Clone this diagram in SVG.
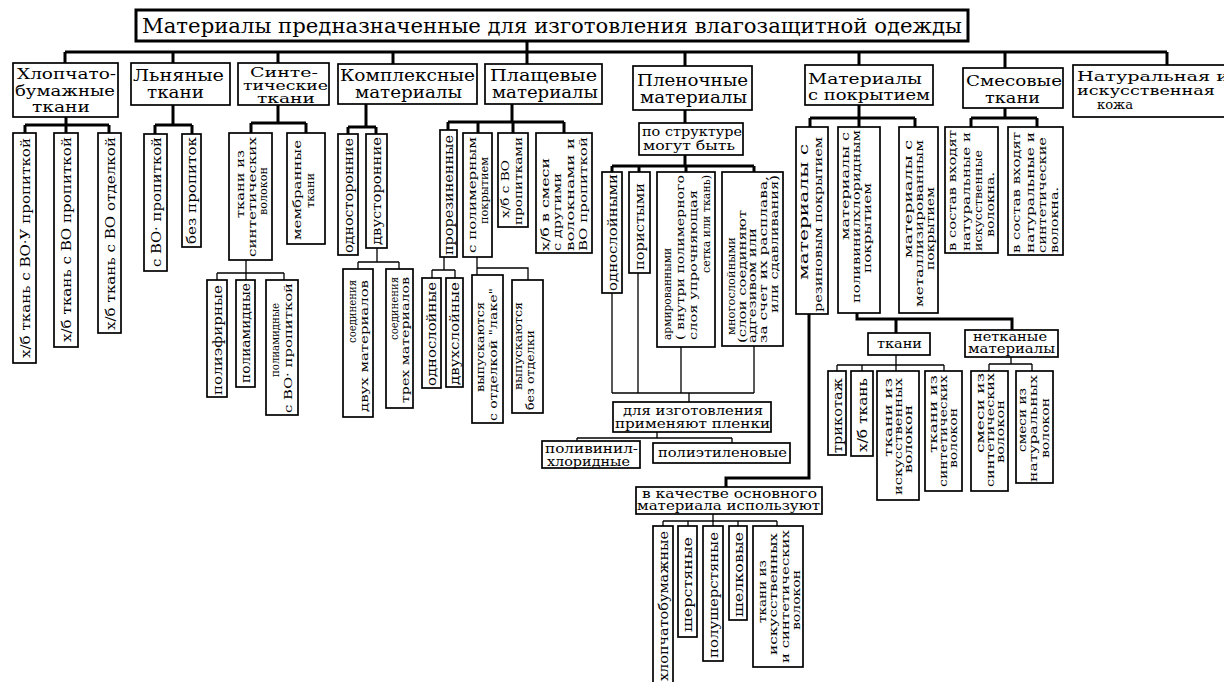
<svg xmlns="http://www.w3.org/2000/svg" width="1224" height="682" viewBox="0 0 1224 682">
<style>
.b{fill:#fff;stroke:#000;stroke-width:1.7}
.tb{fill:#fff;stroke:#000;stroke-width:3}
.k{stroke:#000;stroke-width:3;fill:none}
.n{stroke:#000;stroke-width:1.3;fill:none}
text{font-family:"DejaVu Serif","Liberation Serif",serif;fill:#000}
.h{font-size:16px}
.h3{font-size:14.5px}
.h2{font-size:12px}
.s{font-size:12px}
.v{font-size:11px}
.v1{font-size:13px}
</style>
<rect width="1224" height="682" fill="#fff"/>
<g id="connectors">
<path class="k" d="M527 41V64M65 52H1167M65 52V63M173 52V63M278 52V63M393 52V64M685 52V66M859 52V65M1005 52V68M1167 52V65"/>
<path class="k" d="M66 117V125M25 125H109M25 125V133M66 125V133M109 125V133"/>
<path class="k" d="M173 105V125M155 125H192M155 125V134M192 125V134"/>
<path class="k" d="M278 105V123M251 123H306M251 123V133M306 123V133"/>
<path class="n" d="M246 260V273M217 273H284M217 273V280M246 273V280M284 273V280"/>
<path class="k" d="M366 104V127M348 127H376M348 127V134M376 127V134"/>
<path class="n" d="M377 248V262M358 262H399M358 262V269M399 262V269"/>
<path class="k" d="M512 104V122M448 122H564M448 122V130M478 122V133M513 122V133M564 122V133"/>
<path class="n" d="M444 257V270M432 270H455M432 270V278M455 270V278"/>
<path class="n" d="M477 257V275M477 268H528V280"/>
<path class="k" d="M685 110V123M685 155V166M612 166H754M612 166V172M639 166V172M686 166V172M754 166V172"/>
<path class="n" d="M612 293V393M638 273V393M681 347V393M754 346V393M612 393H754M689 393V402"/>
<path class="n" d="M657 432V438M577 438H732M577 438V441M732 438V443"/>
<path class="k" d="M859 105V118M810 118H915M810 118V127M859 118V127M915 118V127"/>
<path class="k" d="M809 314V478H726V487"/>
<path class="n" d="M713 514V521M663 521H777M663 521V526M688 521V526M713 521V526M738 521V526M777 521V526"/>
<path class="k" d="M857 313V319H1012V330M896 319V333"/>
<path class="n" d="M896 355V371M837 365H944M837 365V371M862 365V371M944 365V371"/>
<path class="n" d="M1011 357V364M989 364H1032M989 364V371M1032 364V371"/>
<path class="k" d="M1005 108V118M971 118H1037M971 118V127M1037 118V127"/>
</g>
<g id="title"><rect class="tb" x="136" y="10" width="832" height="31"/><text x="142" y="33" font-size="21" textLength="820" lengthAdjust="spacingAndGlyphs">Материалы предназначенные для изготовления влагозащитной одежды</text></g>
<g id="n-hlop"><rect class="b" x="13" y="63" width="105" height="54"/><text class="h3" x="17" y="79" textLength="99" lengthAdjust="spacingAndGlyphs">Хлопчато-</text><text class="h3" x="15" y="96" textLength="100" lengthAdjust="spacingAndGlyphs">бумажные</text><text class="h3" x="32" y="112" textLength="58" lengthAdjust="spacingAndGlyphs">ткани</text></g>
<g id="n-len"><rect class="b" x="131" y="63" width="99" height="42"/><text class="h" x="133" y="81" textLength="91" lengthAdjust="spacingAndGlyphs">Льняные</text><text class="h" x="147" y="98" textLength="57" lengthAdjust="spacingAndGlyphs">ткани</text></g>
<g id="n-sint"><rect class="b" x="238" y="63" width="91" height="42"/><text class="h2" x="250" y="77" textLength="68" lengthAdjust="spacingAndGlyphs">Синте-</text><text class="h2" x="243" y="90" textLength="85" lengthAdjust="spacingAndGlyphs">тические</text><text class="h2" x="257" y="102.5" textLength="58" lengthAdjust="spacingAndGlyphs">ткани</text></g>
<g id="n-kompl"><rect class="b" x="338" y="64" width="139" height="40"/><text class="h" x="340" y="81" textLength="135" lengthAdjust="spacingAndGlyphs">Комплексные</text><text class="h" x="355" y="98" textLength="107" lengthAdjust="spacingAndGlyphs">материалы</text></g>
<g id="n-plasch"><rect class="b" x="485" y="64" width="117" height="40"/><text class="h" x="490" y="81" textLength="107" lengthAdjust="spacingAndGlyphs">Плащевые</text><text class="h" x="492" y="98" textLength="106" lengthAdjust="spacingAndGlyphs">материалы</text></g>
<g id="n-plen"><rect class="b" x="633" y="66" width="119" height="44"/><text class="h" x="637" y="86" textLength="111" lengthAdjust="spacingAndGlyphs">Пленочные</text><text class="h" x="640" y="103" textLength="107" lengthAdjust="spacingAndGlyphs">материалы</text></g>
<g id="n-pokr"><rect class="b" x="805" y="65" width="128" height="40"/><text font-size="15" x="808" y="84" textLength="114" lengthAdjust="spacingAndGlyphs">Материалы</text><text font-size="15" x="808" y="100" textLength="122" lengthAdjust="spacingAndGlyphs">с покрытием</text></g>
<g id="n-smes"><rect class="b" x="963" y="68" width="100" height="40"/><text font-size="15.5" x="966" y="86" textLength="96" lengthAdjust="spacingAndGlyphs">Смесовые</text><text font-size="15.5" x="985" y="103" textLength="55" lengthAdjust="spacingAndGlyphs">ткани</text></g>
<g id="n-kozha"><rect class="b" x="1073" y="65" width="153" height="52"/><text font-size="13.5" x="1077" y="81" textLength="152" lengthAdjust="spacingAndGlyphs">Натуральная и</text><text font-size="13.5" x="1077" y="95" textLength="138" lengthAdjust="spacingAndGlyphs">искусственная</text><text font-size="13.5" x="1097" y="109" textLength="36" lengthAdjust="spacingAndGlyphs">кожа</text></g>

<g id="n-hb1"><rect class="b" x="13" y="133" width="23" height="230"/><text class="v1" transform="rotate(-90)" x="-358" y="29.5" textLength="220" lengthAdjust="spacingAndGlyphs">х/б ткань с ВО·У пропиткой</text></g>
<g id="n-hb2"><rect class="b" x="54" y="133" width="24" height="214"/><text class="v1" transform="rotate(-90)" x="-342" y="71" textLength="205" lengthAdjust="spacingAndGlyphs">х/б ткань с ВО пропиткой</text></g>
<g id="n-hb3"><rect class="b" x="98" y="133" width="23" height="200"/><text class="v1" transform="rotate(-90)" x="-330" y="114.5" textLength="193" lengthAdjust="spacingAndGlyphs">х/б ткань с ВО отделкой</text></g>
<g id="n-len1"><rect class="b" x="144" y="134" width="23" height="137"/><text class="v1" transform="rotate(-90)" x="-267" y="160.5" textLength="130" lengthAdjust="spacingAndGlyphs">с ВО· пропиткой</text></g>
<g id="n-len2"><rect class="b" x="182" y="134" width="19" height="113"/><text class="v1" transform="rotate(-90)" x="-244" y="196" textLength="107" lengthAdjust="spacingAndGlyphs">без пропиток</text></g>
<g id="n-sint1"><rect class="b" x="229" y="133" width="43" height="127"/><text class="v" transform="rotate(-90)" x="-218" y="244" textLength="68" lengthAdjust="spacingAndGlyphs">ткани из</text><text class="v" transform="rotate(-90)" x="-257" y="256" textLength="120" lengthAdjust="spacingAndGlyphs">синтетических</text><text class="v" transform="rotate(-90)" x="-215" y="267" textLength="48" lengthAdjust="spacingAndGlyphs">волокон</text></g>
<g id="n-sint2"><rect class="b" x="287" y="133" width="38" height="111"/><text class="v" transform="rotate(-90)" x="-240" y="301" textLength="100" lengthAdjust="spacingAndGlyphs">мембранные</text><text class="v" transform="rotate(-90)" x="-208" y="314" textLength="35" lengthAdjust="spacingAndGlyphs">ткани</text></g>
<g id="n-pef"><rect class="b" x="207" y="280" width="20" height="117"/><text class="v1" transform="rotate(-90)" x="-395" y="222" textLength="110" lengthAdjust="spacingAndGlyphs">полиэфирные</text></g>
<g id="n-pam"><rect class="b" x="236" y="280" width="19" height="107"/><text class="v1" transform="rotate(-90)" x="-383" y="250" textLength="100" lengthAdjust="spacingAndGlyphs">полиамидные</text></g>
<g id="n-pam2"><rect class="b" x="266" y="280" width="32" height="135"/><text class="v" transform="rotate(-90)" x="-377" y="279" textLength="74" lengthAdjust="spacingAndGlyphs">полиамидные</text><text class="v" transform="rotate(-90)" x="-413" y="292" textLength="130" lengthAdjust="spacingAndGlyphs">с ВО· пропиткой</text></g>
<g id="n-odnost"><rect class="b" x="338" y="134" width="20" height="121"/><text class="v1" transform="rotate(-90)" x="-253" y="352.5" textLength="115" lengthAdjust="spacingAndGlyphs">односторонние</text></g>
<g id="n-dvust"><rect class="b" x="366" y="134" width="21" height="114"/><text class="v1" transform="rotate(-90)" x="-245" y="381" textLength="108" lengthAdjust="spacingAndGlyphs">двусторонние</text></g>
<g id="n-soed2"><rect class="b" x="343" y="269" width="30" height="148"/><text class="v" transform="rotate(-90)" x="-343" y="356" textLength="63" lengthAdjust="spacingAndGlyphs">соединения</text><text class="v" transform="rotate(-90)" x="-412" y="368" textLength="132" lengthAdjust="spacingAndGlyphs">двух материалов</text></g>
<g id="n-soed3"><rect class="b" x="386" y="269" width="27" height="139"/><text class="v" transform="rotate(-90)" x="-340" y="398" textLength="63" lengthAdjust="spacingAndGlyphs">соединения</text><text class="v" transform="rotate(-90)" x="-403" y="409" textLength="126" lengthAdjust="spacingAndGlyphs">трех материалов</text></g>
<g id="n-prorez"><rect class="b" x="440" y="130" width="17" height="127"/><text class="v1" transform="rotate(-90)" x="-255" y="453" textLength="120" lengthAdjust="spacingAndGlyphs">прорезиненные</text></g>
<g id="n-polim"><rect class="b" x="463" y="133" width="29" height="124"/><text class="v" transform="rotate(-90)" x="-253" y="476" textLength="116" lengthAdjust="spacingAndGlyphs">с полимерным</text><text class="v" transform="rotate(-90)" x="-224" y="488" textLength="67" lengthAdjust="spacingAndGlyphs">покрытием</text></g>
<g id="n-hbvo"><rect class="b" x="498" y="133" width="30" height="94"/><text class="v" transform="rotate(-90)" x="-218" y="509" textLength="58" lengthAdjust="spacingAndGlyphs">х/б с ВО</text><text class="v" transform="rotate(-90)" x="-225" y="522" textLength="88" lengthAdjust="spacingAndGlyphs">пропитками</text></g>
<g id="n-hbsm"><rect class="b" x="536" y="133" width="56" height="120"/><text class="v" transform="rotate(-90)" x="-251" y="549" textLength="93" lengthAdjust="spacingAndGlyphs">х/б в смеси</text><text class="v" transform="rotate(-90)" x="-251" y="561" textLength="78" lengthAdjust="spacingAndGlyphs">с другими</text><text class="v" transform="rotate(-90)" x="-251" y="574" textLength="113" lengthAdjust="spacingAndGlyphs">волокнами и</text><text class="v" transform="rotate(-90)" x="-251" y="587" textLength="114" lengthAdjust="spacingAndGlyphs">ВО пропиткой</text></g>
<g id="n-odnosl"><rect class="b" x="422" y="278" width="19" height="110"/><text class="v1" transform="rotate(-90)" x="-386" y="436" textLength="104" lengthAdjust="spacingAndGlyphs">однослойные</text></g>
<g id="n-dvuhsl"><rect class="b" x="446" y="278" width="17" height="109"/><text class="v1" transform="rotate(-90)" x="-385" y="459" textLength="103" lengthAdjust="spacingAndGlyphs">двухслойные</text></g>
<g id="n-lake"><rect class="b" x="472" y="275" width="31" height="148"/><text class="v" transform="rotate(-90)" x="-392" y="484" textLength="90" lengthAdjust="spacingAndGlyphs">выпускаются</text><text class="v" transform="rotate(-90)" x="-421" y="497" textLength="133" lengthAdjust="spacingAndGlyphs">с отделкой "лаке"</text></g>
<g id="n-bezotd"><rect class="b" x="512" y="280" width="31" height="133"/><text class="v" transform="rotate(-90)" x="-390" y="522" textLength="88" lengthAdjust="spacingAndGlyphs">выпускаются</text><text class="v" transform="rotate(-90)" x="-410" y="534" textLength="80" lengthAdjust="spacingAndGlyphs">без отделки</text></g>

<g id="n-struct"><rect class="b" x="639" y="123" width="104" height="32"/><text class="s" x="642" y="136" textLength="100" lengthAdjust="spacingAndGlyphs">по структуре</text><text class="s" x="643" y="150" textLength="92" lengthAdjust="spacingAndGlyphs">могут  быть</text></g>
<g id="n-odnoslm"><rect class="b" x="602" y="172" width="20" height="121"/><text class="v1" transform="rotate(-90)" x="-291" y="617" textLength="117" lengthAdjust="spacingAndGlyphs">однослойными</text></g>
<g id="n-porist"><rect class="b" x="629" y="172" width="21" height="101"/><text class="v1" transform="rotate(-90)" x="-270" y="644" textLength="87" lengthAdjust="spacingAndGlyphs">пористыми</text></g>
<g id="n-arm"><rect class="b" x="657" y="172" width="58" height="175"/><text class="v" transform="rotate(-90)" x="-340" y="671" textLength="92" lengthAdjust="spacingAndGlyphs">армированными</text><text class="v" transform="rotate(-90)" x="-340" y="684" textLength="165" lengthAdjust="spacingAndGlyphs">( внутри полимерного</text><text class="v" transform="rotate(-90)" x="-340" y="697" textLength="150" lengthAdjust="spacingAndGlyphs">слоя упрочняющая</text><text class="v" transform="rotate(-90)" x="-273" y="710" textLength="98" lengthAdjust="spacingAndGlyphs">сетка или ткань)</text></g>
<g id="n-mnogo"><rect class="b" x="722" y="172" width="61" height="174"/><text class="v" transform="rotate(-90)" x="-335" y="735" textLength="98" lengthAdjust="spacingAndGlyphs">многослойными</text><text class="v" transform="rotate(-90)" x="-343" y="746" textLength="133" lengthAdjust="spacingAndGlyphs">(слои соединяют</text><text class="v" transform="rotate(-90)" x="-343" y="756" textLength="115" lengthAdjust="spacingAndGlyphs">адгезивом или</text><text class="v" transform="rotate(-90)" x="-343" y="767" textLength="167" lengthAdjust="spacingAndGlyphs">за счет их расплава,</text><text class="v" transform="rotate(-90)" x="-313" y="778" textLength="138" lengthAdjust="spacingAndGlyphs">или сдавливания)</text></g>
<g id="n-dlya"><rect class="b" x="613" y="402" width="158" height="30"/><text font-size="13" x="623" y="415" textLength="140" lengthAdjust="spacingAndGlyphs">для изготовления</text><text font-size="13" x="615" y="428" textLength="155" lengthAdjust="spacingAndGlyphs">применяют пленки</text></g>
<g id="n-pvh"><rect class="b" x="542" y="441" width="98" height="27"/><text font-size="12" x="545" y="452.5" textLength="93" lengthAdjust="spacingAndGlyphs">поливинил-</text><text font-size="12" x="547" y="465.5" textLength="83" lengthAdjust="spacingAndGlyphs">хлоридные</text></g>
<g id="n-pe"><rect class="b" x="653" y="443" width="137" height="20"/><text font-size="13" x="658" y="457" textLength="129" lengthAdjust="spacingAndGlyphs">полиэтиленовые</text></g>

<g id="n-rez"><rect class="b" x="796" y="127" width="32" height="187"/><text font-size="13" transform="rotate(-90)" x="-280" y="808" textLength="136" lengthAdjust="spacingAndGlyphs">материалы с</text><text class="v" transform="rotate(-90)" x="-312" y="822" textLength="175" lengthAdjust="spacingAndGlyphs">резиновым покрытием</text></g>
<g id="n-pvhp"><rect class="b" x="838" y="127" width="42" height="186"/><text class="v" transform="rotate(-90)" x="-240" y="849" textLength="108" lengthAdjust="spacingAndGlyphs">материалы с</text><text class="v" transform="rotate(-90)" x="-303" y="860" textLength="173" lengthAdjust="spacingAndGlyphs">поливинилхлоридным</text><text class="v" transform="rotate(-90)" x="-273" y="871" textLength="90" lengthAdjust="spacingAndGlyphs">покрытием</text></g>
<g id="n-met"><rect class="b" x="899" y="127" width="39" height="186"/><text class="v" transform="rotate(-90)" x="-258" y="912" textLength="118" lengthAdjust="spacingAndGlyphs">материалы с</text><text class="v" transform="rotate(-90)" x="-307" y="923" textLength="167" lengthAdjust="spacingAndGlyphs">металлизированным</text><text class="v" transform="rotate(-90)" x="-270" y="934" textLength="83" lengthAdjust="spacingAndGlyphs">покрытием</text></g>
<g id="n-kach"><rect class="b" x="636" y="487" width="186" height="27"/><text class="s" x="642" y="498" textLength="175" lengthAdjust="spacingAndGlyphs">в качестве основного</text><text class="s" x="637" y="510" textLength="183" lengthAdjust="spacingAndGlyphs">материала используют</text></g>
<g id="n-hlb"><rect class="b" x="653" y="526" width="20" height="170"/><text class="v1" transform="rotate(-90)" x="-681" y="668" textLength="150" lengthAdjust="spacingAndGlyphs">хлопчатобумажные</text></g>
<g id="n-sher"><rect class="b" x="678" y="526" width="19" height="111"/><text class="v1" transform="rotate(-90)" x="-632" y="692" textLength="95" lengthAdjust="spacingAndGlyphs">шерстяные</text></g>
<g id="n-polush"><rect class="b" x="703" y="526" width="20" height="135"/><text class="v1" transform="rotate(-90)" x="-658" y="718" textLength="126" lengthAdjust="spacingAndGlyphs">полушерстяные</text></g>
<g id="n-shelk"><rect class="b" x="729" y="526" width="18" height="94"/><text class="v1" transform="rotate(-90)" x="-617" y="742.5" textLength="85" lengthAdjust="spacingAndGlyphs">шелковые</text></g>
<g id="n-tisk"><rect class="b" x="753" y="526" width="50" height="141"/><text class="v" transform="rotate(-90)" x="-623" y="766" textLength="63" lengthAdjust="spacingAndGlyphs">ткани из</text><text class="v" transform="rotate(-90)" x="-655" y="777" textLength="122" lengthAdjust="spacingAndGlyphs">искусственных</text><text class="v" transform="rotate(-90)" x="-663" y="789" textLength="133" lengthAdjust="spacingAndGlyphs">и синтетических</text><text class="v" transform="rotate(-90)" x="-630" y="800" textLength="60" lengthAdjust="spacingAndGlyphs">волокон</text></g>

<g id="n-tkani"><rect class="b" x="868" y="333" width="62" height="22"/><text font-size="13" x="877" y="348" textLength="45" lengthAdjust="spacingAndGlyphs">ткани</text></g>
<g id="n-netk"><rect class="b" x="965" y="330" width="93" height="27"/><text class="s" x="973" y="341" textLength="74" lengthAdjust="spacingAndGlyphs">нетканые</text><text class="s" x="968" y="353" textLength="87" lengthAdjust="spacingAndGlyphs">материалы</text></g>
<g id="n-trik"><rect class="b" x="828" y="371" width="18" height="84"/><text class="v1" transform="rotate(-90)" x="-453" y="842" textLength="75" lengthAdjust="spacingAndGlyphs">трикотаж</text></g>
<g id="n-hbt"><rect class="b" x="851" y="371" width="22" height="85"/><text class="v1" transform="rotate(-90)" x="-452" y="867" textLength="74" lengthAdjust="spacingAndGlyphs">х/б ткань</text></g>
<g id="n-tiv"><rect class="b" x="877" y="371" width="42" height="129"/><text class="v" transform="rotate(-90)" x="-457" y="892" textLength="79" lengthAdjust="spacingAndGlyphs">ткани из</text><text class="v" transform="rotate(-90)" x="-495" y="902" textLength="117" lengthAdjust="spacingAndGlyphs">искусственных</text><text class="v" transform="rotate(-90)" x="-473" y="912" textLength="68" lengthAdjust="spacingAndGlyphs">волокон</text></g>
<g id="n-tsv"><rect class="b" x="925" y="371" width="37" height="120"/><text class="v" transform="rotate(-90)" x="-453" y="937" textLength="78" lengthAdjust="spacingAndGlyphs">ткани из</text><text class="v" transform="rotate(-90)" x="-487" y="947" textLength="112" lengthAdjust="spacingAndGlyphs">синтетических</text><text class="v" transform="rotate(-90)" x="-468" y="957" textLength="60" lengthAdjust="spacingAndGlyphs">волокон</text></g>
<g id="n-ssv"><rect class="b" x="971" y="371" width="37" height="120"/><text class="v" transform="rotate(-90)" x="-453" y="984" textLength="80" lengthAdjust="spacingAndGlyphs">смеси из</text><text class="v" transform="rotate(-90)" x="-487" y="994" textLength="114" lengthAdjust="spacingAndGlyphs">синтетических</text><text class="v" transform="rotate(-90)" x="-463" y="1004" textLength="63" lengthAdjust="spacingAndGlyphs">волокон</text></g>
<g id="n-snv"><rect class="b" x="1016" y="371" width="37" height="112"/><text class="v" transform="rotate(-90)" x="-452" y="1026" textLength="64" lengthAdjust="spacingAndGlyphs">смеси из</text><text class="v" transform="rotate(-90)" x="-482" y="1037" textLength="107" lengthAdjust="spacingAndGlyphs">натуральных</text><text class="v" transform="rotate(-90)" x="-458" y="1049" textLength="60" lengthAdjust="spacingAndGlyphs">волокон</text></g>

<g id="n-sm1"><rect class="b" x="945" y="127" width="53" height="126"/><text class="v" transform="rotate(-90)" x="-251" y="956" textLength="121" lengthAdjust="spacingAndGlyphs">в состав входят</text><text class="v" transform="rotate(-90)" x="-251" y="970" textLength="119" lengthAdjust="spacingAndGlyphs">натуральные и</text><text class="v" transform="rotate(-90)" x="-251" y="982" textLength="101" lengthAdjust="spacingAndGlyphs">искусственные</text><text class="v" transform="rotate(-90)" x="-237" y="994" textLength="65" lengthAdjust="spacingAndGlyphs">волокна.</text></g>
<g id="n-sm2"><rect class="b" x="1008" y="127" width="55" height="128"/><text class="v" transform="rotate(-90)" x="-253" y="1020" textLength="121" lengthAdjust="spacingAndGlyphs">в состав входят</text><text class="v" transform="rotate(-90)" x="-253" y="1034" textLength="121" lengthAdjust="spacingAndGlyphs">натуральные и</text><text class="v" transform="rotate(-90)" x="-253" y="1046" textLength="116" lengthAdjust="spacingAndGlyphs">синтетические</text><text class="v" transform="rotate(-90)" x="-253" y="1058" textLength="66" lengthAdjust="spacingAndGlyphs">волокна.</text></g>
</svg>
